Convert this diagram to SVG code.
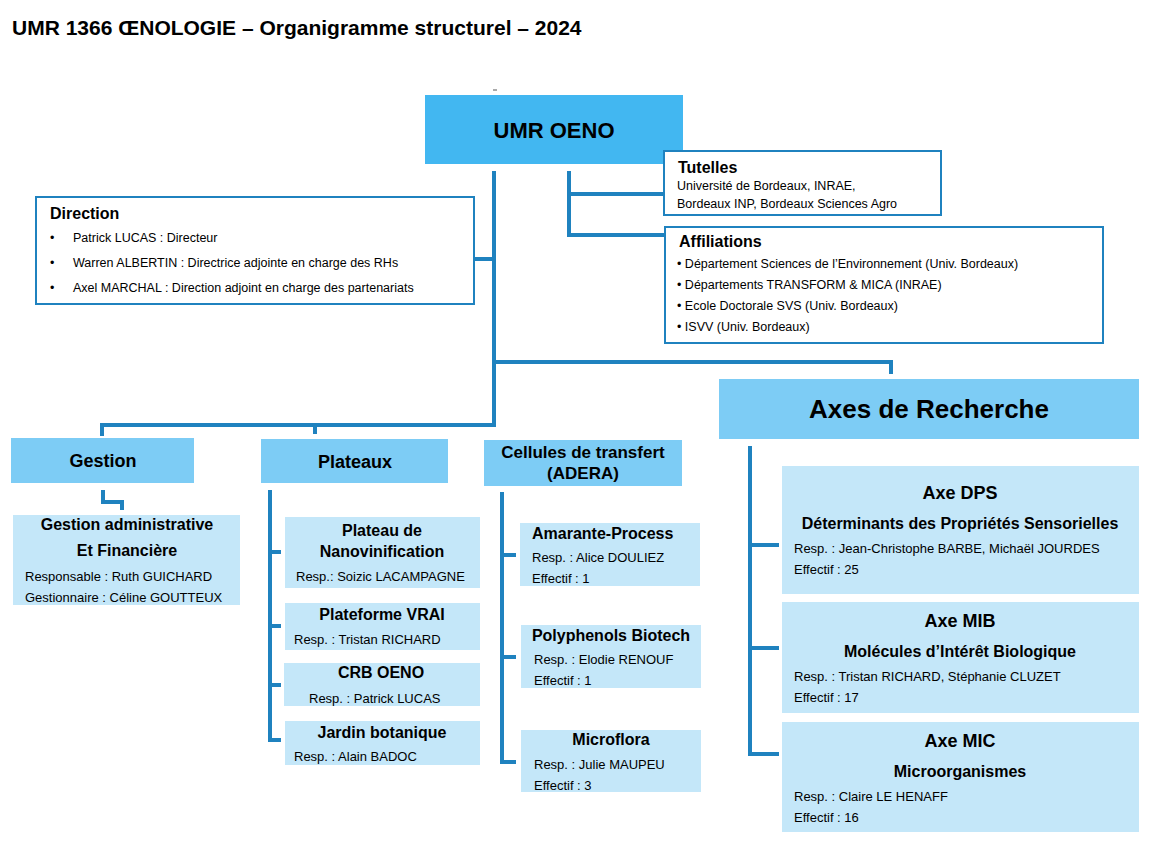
<svg xmlns="http://www.w3.org/2000/svg" width="1151" height="843" viewBox="0 0 1151 843">
<style>
text{font-family:"Liberation Sans",Arial,sans-serif;fill:#000}
.b{font-weight:bold}
.c{text-anchor:middle}
.t{font-size:13px}
.s{font-size:12.5px}
.h{font-size:16px;font-weight:bold}
.ln{stroke:#1f82bf;stroke-width:4;fill:none}
.wb{fill:#fff;stroke:#1f82bf;stroke-width:2}
.lb{fill:#c4e7f9}
.mb{fill:#7dccf5}
</style>
<rect width="1151" height="843" fill="#fff"/>
<text x="12" y="35" class="b" font-size="21">UMR 1366 ŒNOLOGIE – Organigramme structurel – 2024</text>
<g id="connectors">
<line x1="493" y1="90" x2="497" y2="90" stroke="#555" stroke-width="1"/>
<polyline class="ln" points="494,171 494,425 102,425 102,436"/>
<line class="ln" x1="315" y1="425" x2="315" y2="434"/>
<line class="ln" x1="474" y1="259" x2="494" y2="259"/>
<polyline class="ln" points="569,171 569,235 665,235"/>
<line class="ln" x1="569" y1="194" x2="664" y2="194"/>
<polyline class="ln" points="494,362 891,362 891,374"/>
<polyline class="ln" points="103,490 103,502 122,502 122,510"/>
<polyline class="ln" points="270,490 270,740 281,740"/>
<line class="ln" x1="270" y1="552" x2="281" y2="552"/>
<line class="ln" x1="270" y1="626" x2="281" y2="626"/>
<line class="ln" x1="270" y1="685" x2="281" y2="685"/>
<polyline class="ln" points="502,492 502,762 516,762"/>
<line class="ln" x1="502" y1="555" x2="516" y2="555"/>
<line class="ln" x1="502" y1="657" x2="516" y2="657"/>
<polyline class="ln" points="750,446 750,754 779,754"/>
<line class="ln" x1="750" y1="545" x2="779" y2="545"/>
<line class="ln" x1="750" y1="648" x2="779" y2="648"/>
</g>
<g id="umr"><rect x="425" y="95" width="258" height="69" fill="#42b7f1"/><text x="554" y="138" class="b c" font-size="22">UMR OENO</text></g>
<g id="tutelles"><rect class="wb" x="664" y="151" width="277" height="64"/><text x="678" y="173" class="h">Tutelles</text><text x="677" y="190" class="s">Université de Bordeaux, INRAE,</text><text x="677" y="208" class="s">Bordeaux INP, Bordeaux Sciences Agro</text></g>
<g id="affiliations"><rect class="wb" x="665" y="227" width="438" height="116"/><text x="679" y="247" class="h">Affiliations</text>
<text x="677" y="268" class="s">• Département Sciences de l’Environnement (Univ. Bordeaux)</text>
<text x="677" y="289" class="s">• Départements TRANSFORM &amp; MICA (INRAE)</text>
<text x="677" y="310" class="s">• Ecole Doctorale SVS (Univ. Bordeaux)</text>
<text x="677" y="331" class="s">• ISVV (Univ. Bordeaux)</text></g>
<g id="direction"><rect class="wb" x="36" y="197" width="438" height="107"/><text x="50" y="219" class="h">Direction</text>
<text x="50" y="242" class="s">•</text><text x="73" y="242" class="s">Patrick LUCAS : Directeur</text>
<text x="50" y="267" class="s">•</text><text x="73" y="267" class="s">Warren ALBERTIN : Directrice adjointe en charge des RHs</text>
<text x="50" y="292" class="s">•</text><text x="73" y="292" class="s">Axel MARCHAL : Direction adjoint en charge des partenariats</text></g>
<g id="gestion"><rect class="mb" x="11" y="438" width="183" height="45"/><text x="103" y="467" class="b c" font-size="18">Gestion</text></g>
<g id="plateaux"><rect class="mb" x="261" y="439" width="187" height="44"/><text x="355" y="468" class="b c" font-size="18">Plateaux</text></g>
<g id="cellules"><rect class="mb" x="484" y="440" width="198" height="46"/><text x="583" y="458" class="b c" font-size="17">Cellules de transfert</text><text x="583" y="479" class="b c" font-size="17">(ADERA)</text></g>
<g id="axes"><rect class="mb" x="719" y="379" width="420" height="60"/><text x="929" y="418" class="b c" font-size="26">Axes de Recherche</text></g>
<g id="gestion-admin"><rect class="lb" x="13" y="515" width="227" height="90"/><text x="127" y="530" class="h c">Gestion administrative</text><text x="127" y="556" class="h c">Et Financière</text><text x="25" y="581" class="t">Responsable : Ruth GUICHARD</text><text x="25" y="602" class="t">Gestionnaire : Céline GOUTTEUX</text></g>
<g id="nano"><rect class="lb" x="285" y="517" width="195" height="71"/><text x="382" y="536" class="h c">Plateau de</text><text x="382" y="557" class="h c">Nanovinification</text><text x="296" y="581" class="t">Resp.: Soizic LACAMPAGNE</text></g>
<g id="vrai"><rect class="lb" x="285" y="603" width="195" height="47"/><text x="382" y="620" class="h c">Plateforme VRAI</text><text x="294" y="644" class="t">Resp. : Tristan RICHARD</text></g>
<g id="crb"><rect class="lb" x="284" y="663" width="196" height="43"/><text x="381" y="678" class="h c">CRB OENO</text><text x="309" y="703" class="t">Resp. : Patrick LUCAS</text></g>
<g id="jardin"><rect class="lb" x="285" y="721" width="195" height="44"/><text x="382" y="738" class="h c">Jardin botanique</text><text x="294" y="761" class="t">Resp. : Alain BADOC</text></g>
<g id="amarante"><rect class="lb" x="520" y="523" width="180" height="63"/><text x="532" y="539" class="h">Amarante-Process</text><text x="532" y="562" class="t">Resp. : Alice DOULIEZ</text><text x="532" y="583" class="t">Effectif : 1</text></g>
<g id="polyphenols"><rect class="lb" x="521" y="625" width="180" height="63"/><text x="611" y="641" class="h c">Polyphenols Biotech</text><text x="534" y="664" class="t">Resp. : Elodie RENOUF</text><text x="534" y="685" class="t">Effectif : 1</text></g>
<g id="microflora"><rect class="lb" x="521" y="730" width="180" height="62"/><text x="611" y="745" class="h c">Microflora</text><text x="534" y="769" class="t">Resp. : Julie MAUPEU</text><text x="534" y="790" class="t">Effectif : 3</text></g>
<g id="dps"><rect class="lb" x="782" y="466" width="357" height="128"/><text x="960" y="499" class="b c" font-size="18">Axe DPS</text><text x="960" y="529" class="h c">Déterminants des Propriétés Sensorielles</text><text x="794" y="553" class="t">Resp. : Jean-Christophe BARBE, Michaël JOURDES</text><text x="794" y="574" class="t">Effectif : 25</text></g>
<g id="mib"><rect class="lb" x="782" y="602" width="357" height="111"/><text x="960" y="627" class="b c" font-size="18">Axe MIB</text><text x="960" y="657" class="h c">Molécules d’Intérêt Biologique</text><text x="794" y="681" class="t">Resp. :  Tristan RICHARD, Stéphanie CLUZET</text><text x="794" y="702" class="t">Effectif : 17</text></g>
<g id="mic"><rect class="lb" x="782" y="722" width="357" height="110"/><text x="960" y="747" class="b c" font-size="18">Axe MIC</text><text x="960" y="777" class="h c">Microorganismes</text><text x="794" y="801" class="t">Resp. :  Claire LE HENAFF</text><text x="794" y="822" class="t">Effectif : 16</text></g>
</svg>
